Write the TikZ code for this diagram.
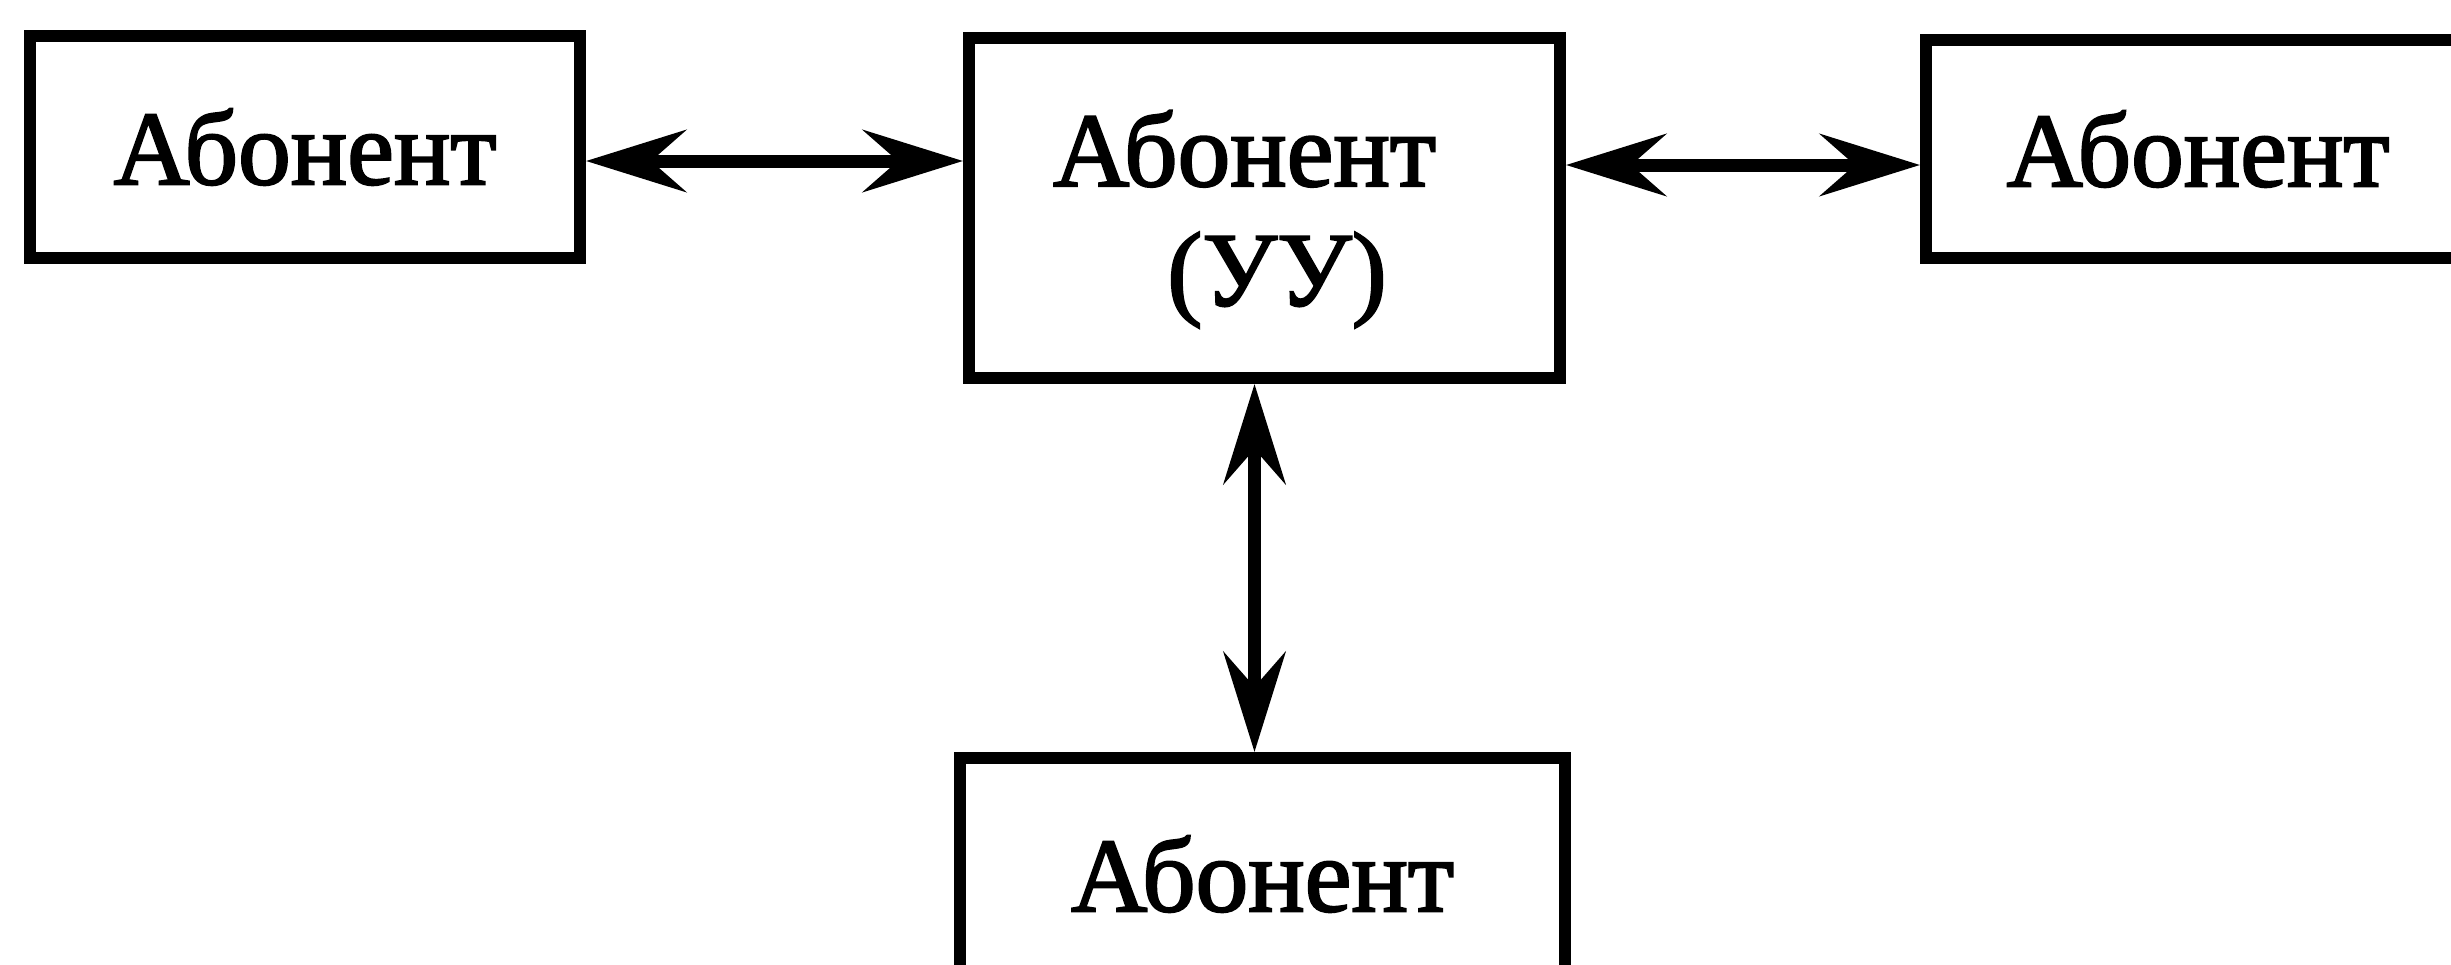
\documentclass[tikz,border=0pt]{standalone}
\usepackage{fontspec}
\setmainfont{Liberation Serif}[FakeBold=2]
\usetikzlibrary{arrows.meta,calc}
\def\abnode{\node[draw,line width=1.2mm,inner sep=0pt,align=center]}
\def\drawlink{\draw[line width=1.3mm,{Stealth[length=10mm,width=6.2mm,inset=3.5mm]}-{Stealth[length=10mm,width=6.2mm,inset=3.5mm]}]}

\begin{document}
\begin{tikzpicture}[font=\fontsize{30}{34}\selectfont]
\useasboundingbox (0,0) rectangle (24.51,-9.64);
\abnode[minimum width=5.5cm,minimum height=2.22cm] (left) at (3.05,-1.47) {Абонент};
\abnode[minimum width=5.91cm,minimum height=3.4cm,text depth=0pt] (uu) at (12.645,-2.08) {Абонент\hspace*{0.4cm}\\\hspace*{0.25cm}(УУ)};
\abnode[minimum width=5.44cm,minimum height=2.18cm] (right) at (21.98,-1.49) {Абонент};
\abnode[minimum width=6.05cm,minimum height=2.32cm] (bottom) at (12.625,-8.74) {Абонент};
\drawlink ([yshift=-0.14cm]left.east) -- ([yshift=-0.14cm]left.east -| uu.west);
\drawlink ([yshift=-0.16cm]right.west -| uu.east) -- ([yshift=-0.16cm]right.west);
\drawlink ([xshift=-0.1cm]uu.south) -- ([xshift=-0.1cm]uu.south |- bottom.north);
\end{tikzpicture}
\end{document}
